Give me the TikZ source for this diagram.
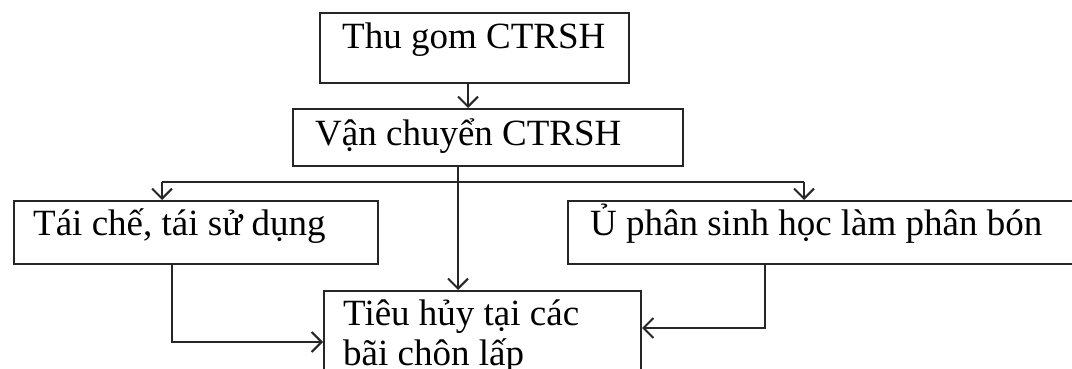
\documentclass[tikz,border=0pt]{standalone}
\usepackage{fontspec}
\setmainfont{Liberation Serif}
\usetikzlibrary{arrows.meta}
\begin{document}
\begin{tikzpicture}[x=1pt,y=1pt,
  box/.style={draw=black!85, line width=2pt, rectangle, inner sep=0pt, anchor=north west},
  lbl/.style={inner sep=0pt, anchor=base west, font=\fontsize{37}{40}\selectfont, align=left},
  arr/.style={draw=black!85, line width=2pt, -{Straight Barb[length=10pt,width=20pt,line width=2pt]}},
  ln/.style={draw=black!85, line width=2pt}]
\useasboundingbox (0,0) rectangle (1072,-369);
\clip (0,0) rectangle (1072,-369);
\fill[white] (0,0) rectangle (1072,-369);
% boxes
\node[box, minimum width=309pt, minimum height=70pt] (b1) at (319,-12) {};
\node[box, minimum width=390pt, minimum height=57pt] (b2) at (292,-108) {};
\node[box, minimum width=364pt, minimum height=63pt] (b3) at (13,-200) {};
\node[box, minimum width=520pt, minimum height=63pt] (b5) at (567,-200) {};
\node[box, minimum width=317pt, minimum height=100pt] (b4) at (323,-290) {};
% labels
\node[lbl] (t1) at (342,-49) {Thu gom CTRSH};
\node[lbl] (t2) at (315,-145) {Vận chuyển CTRSH};
\node[lbl] (t3) at (33,-235) {Tái chế, tái sử dụng};
\node[lbl] (t5) at (590,-235) {Ủ phân sinh học làm phân bón};
\node[lbl] (t4) at (343,-365) {Tiêu hủy tại các\\bãi chôn lấp};
% helper coordinates
\coordinate (a1) at (468,0);
\coordinate (v) at (458,0);
\coordinate (hl) at (162,-182);
\coordinate (hr) at (804,-182);
\coordinate (l) at (172,-342);
\coordinate (r) at (765,-328);
% connectors
\draw[arr] (b1.south -| a1) -- (b2.north -| a1);
\draw[arr] (b2.south -| v) -- (b4.north -| v);
\draw[ln] (hl) -- (hr);
\draw[arr] (hl) -- (b3.north -| hl);
\draw[arr] (hr) -- (b5.north -| hr);
\draw[arr] (b3.south -| l) |- (b4.west |- l);
\draw[arr] (b5.south -| r) |- (b4.east |- r);
\end{tikzpicture}
\end{document}
